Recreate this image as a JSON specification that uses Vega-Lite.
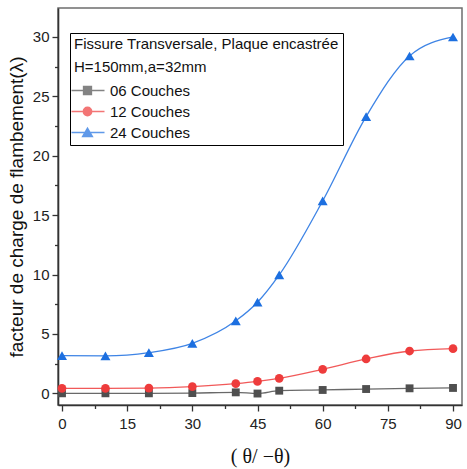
{
  "$schema": "https://vega.github.io/schema/vega-lite/v6.json",
  "autosize": {"type": "none"},
  "width": 404,
  "height": 397,
  "padding": {"left": 58, "top": 8, "right": 5, "bottom": 64},
  "background": "white",
  "config": {
    "view": {"stroke": "#6e6e6e", "strokeWidth": 1.5},
    "font": "Liberation Sans",
    "axis": {
      "grid": false,
      "domainColor": "#333333",
      "domainWidth": 1.6,
      "tickColor": "#333333",
      "tickWidth": 1.3,
      "labelFont": "Liberation Sans",
      "labelFontSize": 15,
      "labelColor": "#222222",
      "titleColor": "#111111",
      "titleFontWeight": "normal"
    },
    "legend": {"titleFontWeight": "normal"}
  },
  "data": {
    "values": [
      {"series": "06 Couches", "x": 0, "y": 0.0},
      {"series": "06 Couches", "x": 10, "y": 0.0},
      {"series": "06 Couches", "x": 20, "y": 0.0},
      {"series": "06 Couches", "x": 30, "y": 0.02},
      {"series": "06 Couches", "x": 40, "y": 0.08},
      {"series": "06 Couches", "x": 45, "y": -0.02},
      {"series": "06 Couches", "x": 50, "y": 0.22},
      {"series": "06 Couches", "x": 60, "y": 0.28},
      {"series": "06 Couches", "x": 70, "y": 0.36},
      {"series": "06 Couches", "x": 80, "y": 0.42},
      {"series": "06 Couches", "x": 90, "y": 0.45},
      {"series": "12 Couches", "x": 0, "y": 0.42},
      {"series": "12 Couches", "x": 10, "y": 0.42},
      {"series": "12 Couches", "x": 20, "y": 0.44},
      {"series": "12 Couches", "x": 30, "y": 0.56},
      {"series": "12 Couches", "x": 40, "y": 0.81},
      {"series": "12 Couches", "x": 45, "y": 1.0},
      {"series": "12 Couches", "x": 50, "y": 1.26},
      {"series": "12 Couches", "x": 60, "y": 2.02},
      {"series": "12 Couches", "x": 70, "y": 2.89},
      {"series": "12 Couches", "x": 80, "y": 3.56},
      {"series": "12 Couches", "x": 90, "y": 3.76},
      {"series": "24 Couches", "x": 0, "y": 3.17},
      {"series": "24 Couches", "x": 10, "y": 3.15},
      {"series": "24 Couches", "x": 20, "y": 3.42},
      {"series": "24 Couches", "x": 30, "y": 4.2},
      {"series": "24 Couches", "x": 40, "y": 6.1},
      {"series": "24 Couches", "x": 45, "y": 7.67},
      {"series": "24 Couches", "x": 50, "y": 9.97},
      {"series": "24 Couches", "x": 60, "y": 16.2},
      {"series": "24 Couches", "x": 70, "y": 23.3},
      {"series": "24 Couches", "x": 80, "y": 28.4},
      {"series": "24 Couches", "x": 90, "y": 30.0}
    ]
  },
  "encoding": {
    "x": {
      "field": "x",
      "type": "quantitative",
      "scale": {"domain": [-0.92, 92.07], "nice": false, "zero": false},
      "axis": {
        "values": [0, 7.5, 15, 22.5, 30, 37.5, 45, 52.5, 60, 67.5, 75, 82.5, 90],
        "labelExpr": "datum.value % 15 === 0 ? datum.label : ''",
        "tickSize": {"condition": {"test": "datum.value % 15 !== 0", "value": 3.5}, "value": 6},
        "labelPadding": 5,
        "title": "( θ/ −θ)",
        "titleFont": "Liberation Serif",
        "titleFontSize": 20,
        "titlePadding": 15
      }
    },
    "y": {
      "field": "y",
      "type": "quantitative",
      "scale": {"domain": [-0.985, 32.44], "nice": false, "zero": false},
      "axis": {
        "values": [0, 2.5, 5, 7.5, 10, 12.5, 15, 17.5, 20, 22.5, 25, 27.5, 30],
        "labelExpr": "datum.value % 5 === 0 ? datum.label : ''",
        "tickSize": {"condition": {"test": "datum.value % 5 !== 0", "value": 3.5}, "value": 6},
        "labelPadding": 3,
        "title": "facteur de charge de flambement(λ)",
        "titleFont": "Liberation Sans",
        "titleFontSize": 19,
        "titlePadding": 6
      }
    },
    "color": {
      "field": "series",
      "type": "nominal",
      "scale": {"domain": ["06 Couches", "12 Couches", "24 Couches"], "range": ["#4f4f4f", "#ee3c3c", "#1c6fe0"]},
      "legend": null
    }
  },
  "layer": [
    {
      "mark": {"type": "line", "interpolate": "monotone", "strokeWidth": 1.3, "opacity": 0.85}
    },
    {
      "transform": [{"filter": "datum.series === '06 Couches'"}],
      "mark": {"type": "point", "filled": true, "opacity": 1, "shape": "square", "size": 62}
    },
    {
      "transform": [{"filter": "datum.series === '12 Couches'"}],
      "mark": {"type": "point", "filled": true, "opacity": 1, "shape": "circle", "size": 76}
    },
    {
      "transform": [{"filter": "datum.series === '24 Couches'"}],
      "mark": {"type": "point", "filled": true, "opacity": 1, "shape": "triangle-up", "size": 100}
    },
    {
      "transform": [{"filter": "datum.x < -100"}],
      "mark": {"type": "point", "filled": false, "strokeWidth": 1.3},
      "encoding": {
        "color": {
          "field": "series",
          "type": "nominal",
          "scale": {"domain": ["06 Couches", "12 Couches", "24 Couches"], "range": ["#4f4f4f", "#ee3c3c", "#1c6fe0"]},
          "legend": {
            "orient": "none",
            "legendX": 12,
            "legendY": 25,
            "title": ["Fissure Transversale, Plaque encastrée", "H=150mm,a=32mm"],
            "titleFont": "Liberation Sans",
            "titleFontSize": 15,
            "titleColor": "#111111",
            "titleLineHeight": 23,
            "titlePadding": 8,
            "titleLimit": 400,
            "labelFont": "Liberation Sans",
            "labelFontSize": 15,
            "labelColor": "#111111",
            "labelOffset": 21,
            "symbolSize": 100,
            "symbolStrokeWidth": 1.3,
            "rowPadding": 5,
            "padding": 4,
            "strokeColor": "#000000",
            "fillColor": "white"
          }
        },
        "shape": {
          "field": "series",
          "type": "nominal",
          "scale": {
            "domain": ["06 Couches", "12 Couches", "24 Couches"],
            "range": [
              "M-2,0H4.6M0.4,-0.8H2V0.8H0.4ZM0.4,-0.6H2M0.4,-0.4H2M0.4,-0.2H2M0.4,0.2H2M0.4,0.4H2M0.4,0.6H2",
              "M-2,0H4.6M0.35,0A0.85,0.85 0 1,0 2.05,0A0.85,0.85 0 1,0 0.35,0ZM0.72,-0.7H1.68M0.6,-0.55H1.8M0.45,-0.4H1.95M0.37,-0.2H2.03M0.72,0.7H1.68M0.6,0.55H1.8M0.45,0.4H1.95M0.37,0.2H2.03",
              "M-2,0H4.6M1.2,-0.9L2.2,0.8H0.2ZM1.08,-0.7H1.32M0.965,-0.5H1.435M0.85,-0.3H1.55M0.73,-0.1H1.67M0.61,0.1H1.79M0.49,0.3H1.91M0.38,0.5H2.02M0.26,0.7H2.14"
            ]
          },
          "legend": {
            "orient": "none",
            "legendX": 12,
            "legendY": 25,
            "title": ["Fissure Transversale, Plaque encastrée", "H=150mm,a=32mm"],
            "titleFont": "Liberation Sans",
            "titleFontSize": 15,
            "titleColor": "#111111",
            "titleLineHeight": 23,
            "titlePadding": 8,
            "titleLimit": 400,
            "labelFont": "Liberation Sans",
            "labelFontSize": 15,
            "labelColor": "#111111",
            "labelOffset": 21,
            "symbolSize": 100,
            "symbolStrokeWidth": 1.3,
            "rowPadding": 5,
            "padding": 4,
            "strokeColor": "#000000",
            "fillColor": "white"
          }
        }
      }
    }
  ],
  "resolve": {"scale": {"color": "independent", "shape": "independent"}}
}
